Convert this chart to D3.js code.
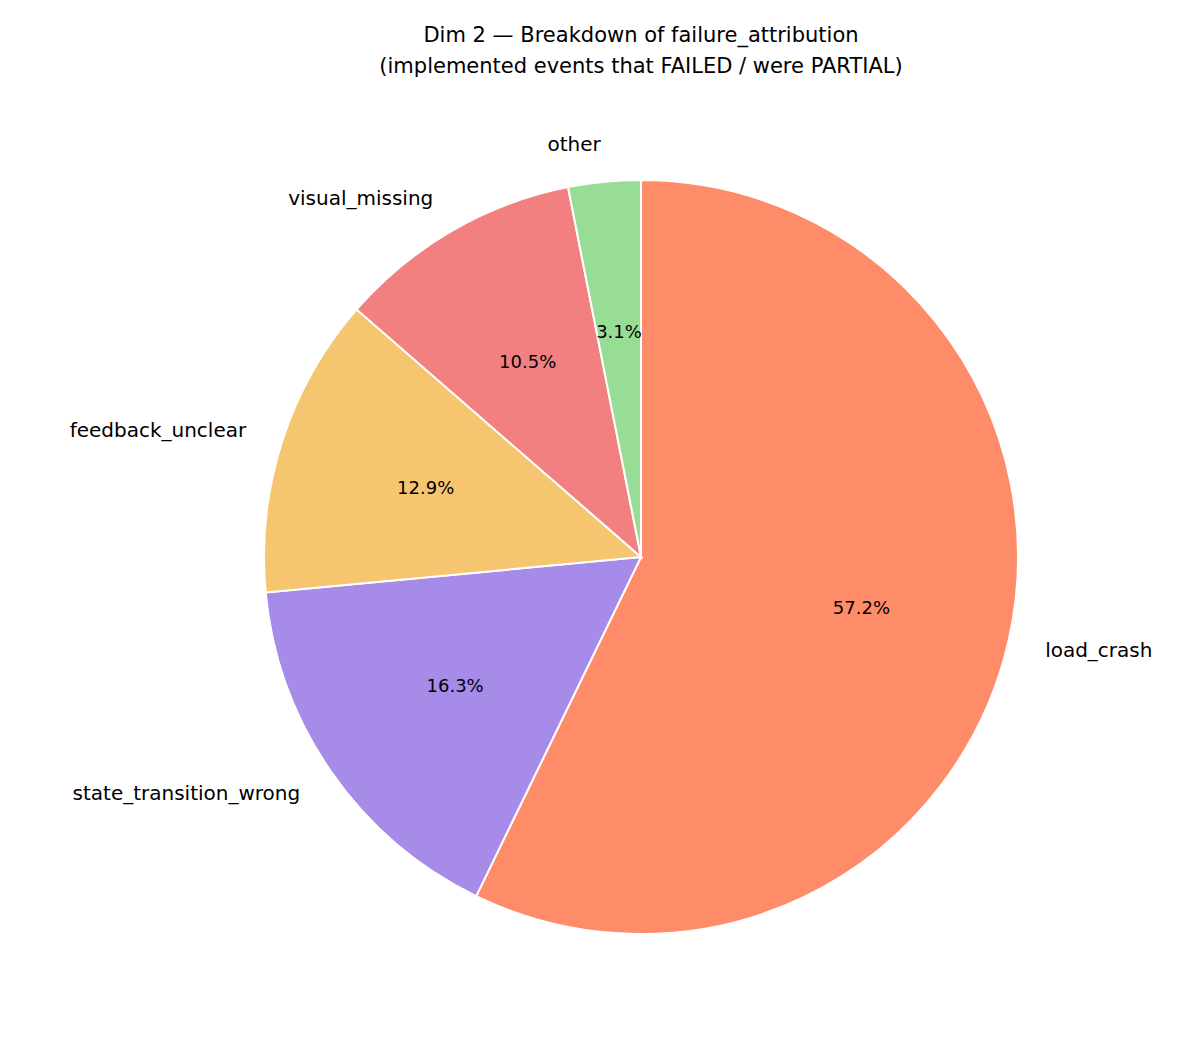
<!DOCTYPE html>
<html><head><meta charset="utf-8">
<script src="https://cdn.jsdelivr.net/npm/d3@7"></script>
<style>body{margin:0;background:#fff}svg{font-family:"DejaVu Sans",sans-serif}</style>
</head><body>
<script>
const categories = ["load_crash","state_transition_wrong","feedback_unclear","visual_missing","other"];
const values = [57.2,16.3,12.9,10.5,3.1];
const colors = ["#ff8c69","#a78be8","#f5c66f","#f38080","#98dd95"];
const W=1190,H=1050,cx=641,cy=557,r=377;
const svg=d3.select("body").append("svg").attr("width",W).attr("height",H);
svg.append("text").attr("x",641).attr("y",42).attr("text-anchor","middle").attr("font-size",21).text("Dim 2 — Breakdown of failure_attribution");
svg.append("text").attr("x",641).attr("y",73).attr("text-anchor","middle").attr("font-size",21).text("(implemented events that FAILED / were PARTIAL)");
const data=categories.map((c,i)=>({c,v:values[i],col:colors[i]}));
const arcs=d3.pie().sort(null).value(d=>d.v)(data);
const g=svg.append("g").attr("transform",`translate(${cx},${cy})`);
const arc=d3.arc().innerRadius(0).outerRadius(r);
g.selectAll("path").data(arcs).join("path").attr("d",arc).attr("fill",d=>d.data.col).attr("stroke","#fff").attr("stroke-width",2);
arcs.forEach(d=>{
  const a=(d.startAngle+d.endAngle)/2, sx=Math.sin(a), sy=-Math.cos(a);
  g.append("text").attr("x",sx*r*1.1).attr("y",sy*r*1.1).attr("dy","0.35em")
   .attr("text-anchor",sx>=0?"start":"end").attr("font-size",20).text(d.data.c);
  g.append("text").attr("x",sx*r*0.6).attr("y",sy*r*0.6).attr("dy","0.35em")
   .attr("text-anchor","middle").attr("font-size",18).text(d.data.v.toFixed(1)+"%");
});
</script>
</body></html>
